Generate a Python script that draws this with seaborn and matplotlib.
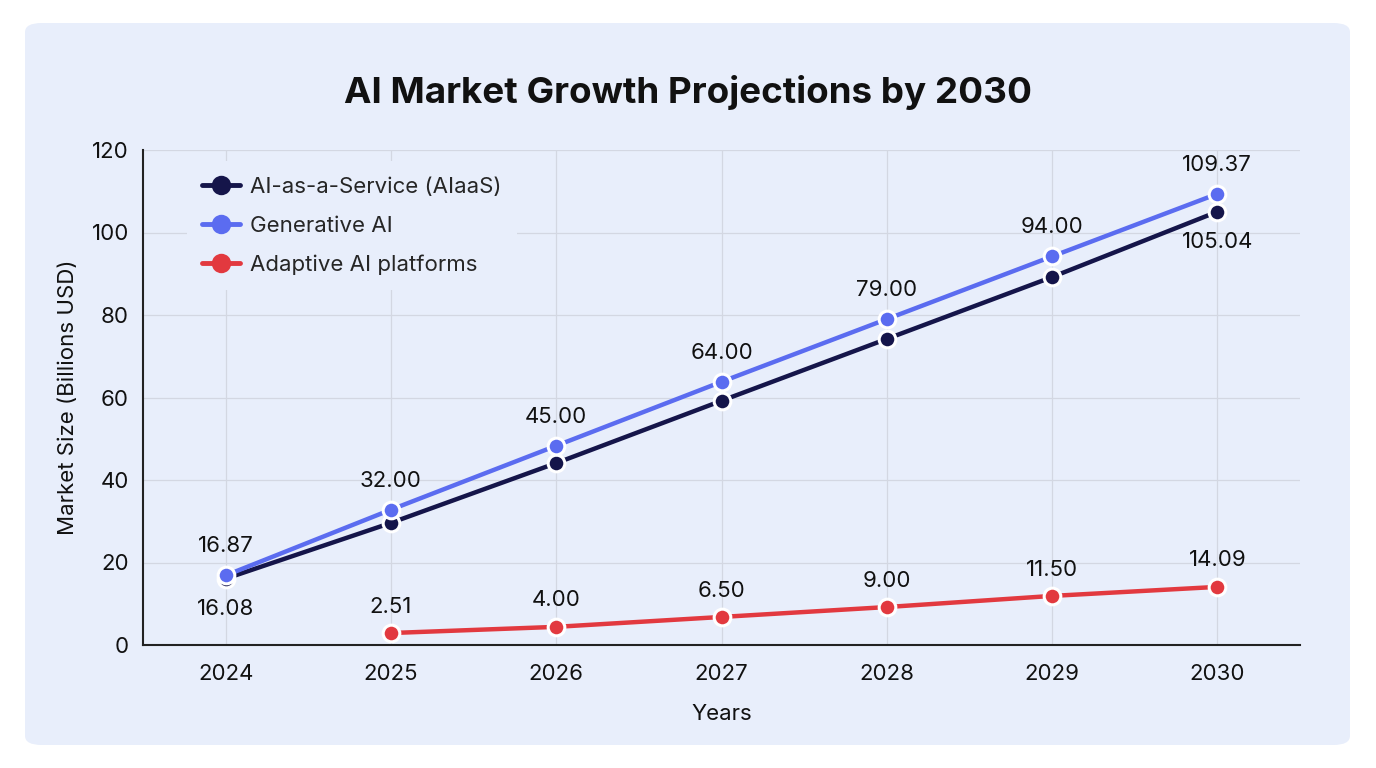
import matplotlib
matplotlib.use("Agg")
import matplotlib.pyplot as plt
import seaborn as sns
import numpy as np
from matplotlib.patches import FancyBboxPatch

years = [2024, 2025, 2026, 2027, 2028, 2029, 2030]

aiaas = [16.08, 29.6, 44.1, 59.2, 74.2, 89.2, 105.04]
generative = [16.87, 32.8, 48.3, 63.8, 79.0, 94.2, 109.37]
adaptive = [np.nan, 2.9, 4.4, 6.8, 9.2, 11.9, 14.09]

generative_labels = ["16.87", "32.00", "45.00", "64.00", "79.00", "94.00", "109.37"]
aiaas_labels = {2024: "16.08", 2030: "105.04"}
adaptive_labels = [None, "2.51", "4.00", "6.50", "9.00", "11.50", "14.09"]

bg = "#e8eefb"
c_aiaas = "#15154a"
c_gen = "#5b6cf0"
c_adapt = "#e2393f"

sns.set_theme(style="whitegrid")
plt.rcParams["font.family"] = ["Inter", "DejaVu Sans"]

fig = plt.figure(figsize=(13.76, 7.68), dpi=100)
fig.patch.set_facecolor("white")
card = FancyBboxPatch((25 / 1376, 23 / 768), 1325 / 1376, 722 / 768,
                      boxstyle="round,pad=0,rounding_size=0.012",
                      transform=fig.transFigure, facecolor=bg, edgecolor="none", zorder=-5)
fig.patches.append(card)

ax = fig.add_axes([143 / 1376, 1 - 645 / 768, 1157 / 1376, 495 / 768])
ax.set_facecolor(bg)

line_kw = dict(marker="o", markersize=12, markeredgecolor="white", markeredgewidth=2.2,
               linewidth=3.2)
sns.lineplot(x=years, y=aiaas, color=c_aiaas, label="AI-as-a-Service (AIaaS)", ax=ax, **line_kw)
sns.lineplot(x=years, y=generative, color=c_gen, label="Generative AI", ax=ax, **line_kw)
sns.lineplot(x=years, y=adaptive, color=c_adapt, label="Adaptive AI platforms", ax=ax, **line_kw)

for x, y, t in zip(years, generative, generative_labels):
    ax.annotate(t, (x, y), xytext=(0, 21), textcoords="offset points",
                ha="center", va="center", fontsize=16, color="#111111")
for x, y in zip(years, aiaas):
    if x in aiaas_labels:
        ax.annotate(aiaas_labels[x], (x, y), xytext=(0, -22), textcoords="offset points",
                    ha="center", va="center", fontsize=16, color="#111111")
for x, y, t in zip(years, adaptive, adaptive_labels):
    if t:
        ax.annotate(t, (x, y), xytext=(0, 19), textcoords="offset points",
                    ha="center", va="center", fontsize=16, color="#111111")

ax.set_xlim(2023.5, 2030.5)
ax.set_ylim(0, 120)
ax.set_xticks(years)
ax.set_xticklabels([str(y) for y in years])
ax.set_yticks(range(0, 121, 20))
ax.tick_params(axis="both", labelsize=16, colors="#111111", length=0)
ax.tick_params(axis="x", pad=14)
ax.tick_params(axis="y", pad=10)
ax.grid(True, color="#d3d7e2", linewidth=0.9)
for s in ["top", "right"]:
    ax.spines[s].set_visible(False)
for s in ["left", "bottom"]:
    ax.spines[s].set_color("#222222")
    ax.spines[s].set_linewidth(1.5)

ax.set_xlabel("Years", fontsize=16, color="#111111", labelpad=14)
ax.set_ylabel("Market Size (Billions USD)", fontsize=16, color="#111111", labelpad=10)

leg = ax.legend(loc="upper left", bbox_to_anchor=(0.028, 1.0), fontsize=16, frameon=True,
                facecolor=bg, edgecolor="none", framealpha=1, handlelength=1.7,
                handletextpad=0.45, borderpad=0.7, labelspacing=0.85)
for h in leg.legend_handles:
    h.set_markersize(14)
    h.set_markeredgewidth(0)
    h.set_linewidth(3.5)

fig.text(0.5, 1 - 92 / 768, "AI Market Growth Projections by 2030", ha="center", va="center",
         fontsize=26.5, fontweight="bold", color="#111111")

fig.savefig("out.png", dpi=100, facecolor="white")
